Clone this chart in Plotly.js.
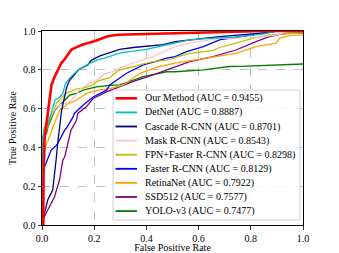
<!DOCTYPE html>
<html>
<head>
<meta charset="utf-8">
<script src="https://cdn.plot.ly/plotly-3.0.1.min.js"></script>
<style>html,body{margin:0;padding:0;background:#fff;}#chart{width:339px;height:253px;}</style>
</head>
<body>
<div id="chart"></div>
<script>
// ---- data ----
const names = ['Our Method', 'DetNet', 'Cascade R-CNN', 'Mask R-CNN', 'FPN+Faster R-CNN', 'Faster R-CNN', 'RetinaNet', 'SSD512', 'YOLO-v3'];
const aucs = ['0.9455', '0.8887', '0.8701', '0.8543', '0.8298', '0.8129', '0.7922', '0.7577', '0.7477'];
const colors = ['#ff0000', '#00bfbf', '#000080', '#ffc0cb', '#bfbf00', '#0000ff', '#ffa500', '#800080', '#008000'];

const ourX = [0, 0.005, 0.006, 0.01, 0.015, 0.02, 0.028, 0.036, 0.047, 0.06, 0.074, 0.086, 0.1, 0.113, 0.135, 0.157, 0.2, 0.22, 0.252, 0.29, 0.35, 0.5, 0.62, 0.76, 0.85, 1.0];
const ourY = [0, 0, 0.27, 0.45, 0.5, 0.55, 0.63, 0.72, 0.76, 0.8, 0.835, 0.853, 0.88, 0.904, 0.918, 0.93, 0.947, 0.958, 0.973, 0.981, 0.983, 0.987, 0.99, 0.995, 1.0, 1.0];

const detX = [0, 0.003, 0.008, 0.017, 0.03, 0.04, 0.05, 0.068, 0.08, 0.09, 0.111, 0.14, 0.175, 0.21, 0.24, 0.3, 0.35, 0.4, 0.49, 0.566, 0.643, 0.75, 0.85, 0.9, 1.0];
const detY = [0, 0.45, 0.5, 0.51, 0.55, 0.6, 0.645, 0.66, 0.68, 0.73, 0.765, 0.8, 0.828, 0.85, 0.86, 0.887, 0.895, 0.905, 0.933, 0.954, 0.962, 0.97, 0.985, 1.0, 1.0];

const casX = [0, 0.003, 0.015, 0.022, 0.041, 0.048, 0.054, 0.06, 0.067, 0.075, 0.083, 0.095, 0.105, 0.125, 0.14, 0.175, 0.19, 0.222, 0.26, 0.298, 0.35, 0.4, 0.464, 0.51, 0.566, 0.68, 0.76, 0.85, 0.9, 1.0];
const casY = [0, 0.026, 0.09, 0.129, 0.18, 0.249, 0.335, 0.42, 0.506, 0.59, 0.64, 0.712, 0.745, 0.775, 0.8, 0.825, 0.85, 0.872, 0.888, 0.905, 0.915, 0.922, 0.93, 0.945, 0.954, 0.971, 0.98, 0.99, 1.0, 1.0];

const maskX = [0, 0.005, 0.01, 0.03, 0.05, 0.07, 0.1, 0.113, 0.13, 0.145, 0.18, 0.215, 0.24, 0.273, 0.3, 0.35, 0.426, 0.51, 0.566, 0.68, 0.8, 0.9, 0.95, 1.0];
const maskY = [0, 0.45, 0.52, 0.56, 0.6, 0.62, 0.63, 0.643, 0.67, 0.7, 0.73, 0.75, 0.78, 0.79, 0.81, 0.834, 0.868, 0.92, 0.937, 0.962, 0.965, 0.98, 1.0, 1.0];

const fpnX = [0, 0.004, 0.01, 0.024, 0.04, 0.055, 0.07, 0.094, 0.13, 0.157, 0.19, 0.209, 0.222, 0.26, 0.286, 0.3, 0.35, 0.375, 0.426, 0.49, 0.528, 0.566, 0.656, 0.68, 0.743, 0.807, 0.871, 1.0];
const fpnY = [0, 0.335, 0.45, 0.523, 0.57, 0.626, 0.65, 0.68, 0.7, 0.705, 0.72, 0.738, 0.745, 0.76, 0.79, 0.8, 0.817, 0.827, 0.842, 0.853, 0.87, 0.885, 0.9, 0.915, 0.937, 0.962, 0.98, 0.99];

const frcX = [0, 0.003, 0.015, 0.03, 0.035, 0.055, 0.06, 0.087, 0.094, 0.119, 0.124, 0.157, 0.196, 0.247, 0.26, 0.324, 0.388, 0.44, 0.477, 0.51, 0.554, 0.618, 0.68, 0.76, 0.85, 0.9, 1.0];
const frcY = [0, 0.283, 0.317, 0.369, 0.386, 0.41, 0.42, 0.489, 0.5, 0.557, 0.575, 0.617, 0.66, 0.695, 0.722, 0.782, 0.825, 0.845, 0.86, 0.868, 0.894, 0.92, 0.954, 0.971, 0.99, 1.0, 1.0];

const retX = [0, 0.003, 0.017, 0.022, 0.042, 0.068, 0.1, 0.132, 0.17, 0.215, 0.26, 0.311, 0.375, 0.45, 0.51, 0.58, 0.656, 0.743, 0.82, 0.897, 0.91, 0.948, 1.0];
const retY = [0, 0.335, 0.42, 0.43, 0.506, 0.592, 0.626, 0.643, 0.678, 0.695, 0.703, 0.722, 0.782, 0.817, 0.834, 0.85, 0.868, 0.885, 0.92, 0.937, 0.962, 0.976, 0.98];

const ssdX = [0, 0.003, 0.022, 0.048, 0.067, 0.08, 0.087, 0.099, 0.106, 0.111, 0.132, 0.137, 0.17, 0.196, 0.247, 0.35, 0.426, 0.51, 0.566, 0.656, 0.743, 0.82, 0.871, 0.93, 1.0];
const ssdY = [0, 0.026, 0.077, 0.146, 0.232, 0.335, 0.352, 0.42, 0.454, 0.489, 0.54, 0.575, 0.609, 0.652, 0.686, 0.74, 0.774, 0.817, 0.842, 0.868, 0.902, 0.945, 0.971, 0.988, 0.99];

const yoloX = [0, 0.004, 0.017, 0.023, 0.049, 0.074, 0.106, 0.132, 0.157, 0.209, 0.26, 0.298, 0.388, 0.477, 0.51, 0.618, 0.72, 0.76, 0.871, 0.993, 1.0];
const yoloY = [0, 0.454, 0.47, 0.506, 0.592, 0.626, 0.669, 0.678, 0.695, 0.712, 0.72, 0.722, 0.765, 0.79, 0.79, 0.8, 0.817, 0.818, 0.822, 0.826, 0.83];

const seriesX = [ourX, detX, casX, maskX, fpnX, frcX, retX, ssdX, yoloX];
const seriesY = [ourY, detY, casY, maskY, fpnY, frcY, retY, ssdY, yoloY];
const tickVals = [0, 0.2, 0.4, 0.6, 0.8, 1.0];
const tickText = ['0.0', '0.2', '0.4', '0.6', '0.8', '1.0'];

// ---- drawing ----
const FONT = 'Liberation Serif, Times New Roman, serif';
const traces = [];
for (let i = seriesX.length - 1; i >= 0; i--) {
  traces.push({
    x: seriesX[i], y: seriesY[i], type: 'scatter', mode: 'lines',
    name: names[i] + ' (AUC = ' + aucs[i] + ')',
    line: {color: colors[i], width: i === 0 ? 2.6 : 1.3},
    showlegend: false, hoverinfo: 'skip'
  });
}

// legend (drawn as layout items because plotly's legend rows cannot be this compact)
const W = 339, H = 253, ML = 42, MR = 36, MT = 31, MB = 28;
const pw = W - ML - MR, ph = H - MT - MB;
const px = v => (v - ML) / pw;
const py = v => (H - MB - v) / ph;
const shapes = [{
  type: 'rect', xref: 'paper', yref: 'paper',
  x0: px(113), x1: px(300), y0: py(220), y1: py(90),
  line: {color: '#d0d0d0', width: 1}, fillcolor: 'rgba(255,255,255,0.85)', layer: 'above'
}];
const annotations = [];
names.forEach((n, i) => {
  const rowY = 98.3 + 14.1 * i;
  shapes.push({type: 'line', xref: 'paper', yref: 'paper', x0: px(115.5), x1: px(137), y0: py(rowY), y1: py(rowY),
    line: {color: colors[i], width: i === 0 ? 2.6 : 1.8}, layer: 'above'});
  annotations.push({xref: 'paper', yref: 'paper', x: px(142.5), y: py(rowY), xanchor: 'left', yanchor: 'middle',
    text: n + ' (AUC = ' + aucs[i] + ')', showarrow: false, font: {family: FONT, size: 10, color: '#000'}});
});

const axisCommon = {
  range: [0, 1], tickvals: tickVals, ticktext: tickText,
  showgrid: true, gridcolor: '#b0b0b0', griddash: 'dash', gridwidth: 0.8,
  zeroline: false, showline: true, mirror: true, linecolor: '#000', linewidth: 1,
  ticks: 'outside', ticklen: 3.5, tickcolor: '#000', tickwidth: 0.8,
  tickfont: {family: FONT, size: 10, color: '#000'}
};
const layout = {
  width: W, height: H,
  margin: {l: ML, r: MR, t: MT, b: MB, pad: 0},
  paper_bgcolor: '#fff', plot_bgcolor: '#fff',
  showlegend: false,
  xaxis: Object.assign({}, axisCommon, {title: {text: 'False Positive Rate', font: {family: FONT, size: 10, color: '#000'}, standoff: 2}}),
  yaxis: Object.assign({}, axisCommon, {title: {text: 'True Positive Rate', font: {family: FONT, size: 10, color: '#000'}, standoff: 4}}),
  shapes: shapes, annotations: annotations
};
Plotly.newPlot('chart', traces, layout, {staticPlot: true, displayModeBar: false});
</script>
</body>
</html>
